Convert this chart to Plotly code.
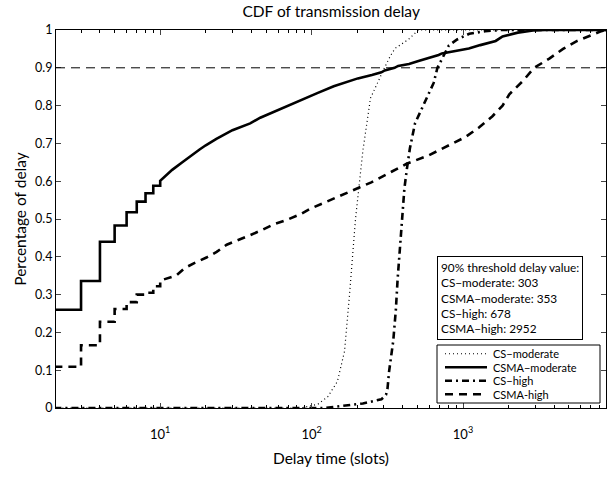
import numpy as np
import plotly.graph_objects as go

# ---------------- data ----------------
# CSMA-moderate: stair part (integer delays) then smooth part
csma_mod_step_x = [2, 3, 4, 5, 6, 7, 8, 9, 10]
csma_mod_step_y = [0.26, 0.336, 0.44, 0.483, 0.518, 0.546, 0.568, 0.588, 0.601]
csma_mod_x = [11, 12, 14, 16, 18.2, 20, 23.5, 30, 39.3, 45.8, 55, 65.5, 85, 109, 140, 182, 202,
              250, 289, 304, 353, 373, 440, 508, 600, 690, 726, 900, 1093, 1300, 1644, 1825,
              2300, 2900, 3500, 8800]
csma_mod_y = [0.615, 0.63, 0.65, 0.668, 0.684, 0.695, 0.712, 0.735, 0.753, 0.768, 0.782, 0.795,
              0.815, 0.833, 0.851, 0.866, 0.872, 0.881, 0.888, 0.893, 0.9, 0.905, 0.91, 0.918,
              0.926, 0.934, 0.938, 0.945, 0.951, 0.96, 0.971, 0.983, 0.993, 0.999, 1.0, 1.0]

# CSMA-high
csma_high_step_x = [2, 3, 4, 5, 6, 7, 8, 9, 10]
csma_high_step_y = [0.109, 0.166, 0.228, 0.262, 0.28, 0.30, 0.305, 0.322, 0.337]
csma_high_x = [12.8, 14.5, 16.9, 20.2, 23.6, 27.5, 32.8, 39.2, 47, 56.2, 69, 84.7, 97.8, 128,
               182, 248, 337, 424, 591, 805, 1040, 1275, 1565, 1825, 2023, 2483, 2952, 3736,
               4580, 5600, 6900, 8200, 8800]
csma_high_y = [0.351, 0.37, 0.384, 0.398, 0.413, 0.432, 0.444, 0.457, 0.471, 0.486, 0.498,
               0.513, 0.527, 0.547, 0.572, 0.597, 0.625, 0.646, 0.668, 0.695, 0.717, 0.742,
               0.772, 0.8, 0.83, 0.865, 0.9, 0.925, 0.95, 0.97, 0.985, 0.997, 1.0]

# CS-moderate
cs_mod_x = [2, 85, 110, 128, 148, 165, 178, 195, 218, 245, 303, 330, 355, 436, 508, 8800]
cs_mod_y = [0, 0, 0.01, 0.03, 0.07, 0.15, 0.3, 0.5, 0.68, 0.82, 0.9, 0.93, 0.951, 0.975, 1.0, 1.0]

# CS-high
cs_high_x = [2, 120, 156, 218, 289, 310, 317, 325, 346, 360, 370, 380, 395, 410, 425, 446,
             482, 562, 640, 678, 806, 915, 1100, 1400, 1800, 8800]
cs_high_y = [0, 0, 0.005, 0.012, 0.023, 0.035, 0.05, 0.097, 0.177, 0.259, 0.341, 0.4, 0.48,
             0.58, 0.63, 0.687, 0.753, 0.811, 0.86, 0.9, 0.959, 0.975, 0.99, 0.997, 1.0, 1.0]

threshold = 0.9
thresh_names = ["CS\u2212moderate", "CSMA\u2212moderate", "CS\u2212high", "CSMA\u2212high"]
thresh_values = [303, 353, 678, 2952]
legend_names = ["CS\u2212moderate", "CSMA\u2212moderate", "CS\u2212high", "CSMA-high"]

x_tickvals = [10, 100, 1000]
x_ticktext = ["10<sup>1</sup>", "10<sup>2</sup>", "10<sup>3</sup>"]
y_tickvals = [0, 0.1, 0.2, 0.3, 0.4, 0.5, 0.6, 0.7, 0.8, 0.9, 1]
y_ticktext = ["0", "0.1", "0.2", "0.3", "0.4", "0.5", "0.6", "0.7", "0.8", "0.9", "1"]

# ---------------- styling ----------------
W, H = 611, 477
ML, MR, MT, MB = 56, 5, 30, 69
PW, PH = W - ML - MR, H - MT - MB
FONT = "Lato, 'Open Sans', sans-serif"

styles = [
    dict(color="black", width=1.2, dash="1px,3px"),
    dict(color="black", width=2.6),
    dict(color="black", width=2.6, dash="7px,4px,2px,4px"),
    dict(color="black", width=2.6, dash="8px,6px"),
]


def stairs(sx, sy):
    xs, ys = [], []
    for i in range(len(sx)):
        if i > 0:
            xs.append(sx[i]); ys.append(sy[i - 1])
        xs.append(sx[i]); ys.append(sy[i])
    return xs, ys


def px_x(p):  # pixel -> paper x
    return (p - ML) / PW


def px_y(p):  # pixel -> paper y
    return (H - MB - p) / PH


fig = go.Figure()
sx, sy = stairs(csma_mod_step_x, csma_mod_step_y)
hx, hy = stairs(csma_high_step_x, csma_high_step_y)
series = [
    (cs_mod_x, cs_mod_y),
    (sx + csma_mod_x, sy + csma_mod_y),
    (cs_high_x, cs_high_y),
    (hx + csma_high_x, hy + csma_high_y),
]
for (xs, ys), name, st in zip(series, legend_names, styles):
    fig.add_trace(go.Scatter(x=xs, y=ys, mode="lines", name=name, line=st, showlegend=False))

fig.add_hline(y=threshold, line=dict(color="black", width=1, dash="9px,6px"))

# threshold annotation box
ann_text = "90% threshold delay value:<br>" + "<br>".join(
    f"{n}: {v}" for n, v in zip(thresh_names, thresh_values))
fig.add_annotation(xref="paper", yref="paper", x=px_x(437), y=px_y(256), xanchor="left",
                   yanchor="top", text=ann_text, showarrow=False, align="left",
                   font=dict(family=FONT, size=11.8, color="black"),
                   bordercolor="black", borderwidth=1, borderpad=3, bgcolor="white")

# legend box (drawn compactly, like the original)
LEG_GAP = 13.5
leg_top, leg_left, leg_right = 345, 437, 600
leg_bot = leg_top + 4 * LEG_GAP + 4
fig.add_shape(type="rect", xref="paper", yref="paper", x0=px_x(leg_left), x1=px_x(leg_right),
              y0=px_y(leg_bot), y1=px_y(leg_top), line=dict(color="black", width=1),
              fillcolor="white", layer="above")
for i, (name, st) in enumerate(zip(legend_names, styles)):
    yc = px_y(leg_top + 2 + LEG_GAP * (i + 0.5))
    fig.add_shape(type="line", xref="paper", yref="paper", x0=px_x(445), x1=px_x(487),
                  y0=yc, y1=yc, line=st, layer="above")
    fig.add_annotation(xref="paper", yref="paper", x=px_x(491), y=yc, xanchor="left",
                       yanchor="middle", text=name, showarrow=False,
                       font=dict(family=FONT, size=11, color="black"))

minor_vals = [m * 10 ** e for e in range(0, 4) for m in range(2, 10) if m * 10 ** e <= 8800]

fig.update_layout(
    width=W, height=H,
    margin=dict(l=ML, r=MR, t=MT, b=MB),
    paper_bgcolor="white", plot_bgcolor="white",
    font=dict(family=FONT, size=12.5, color="black"),
    title=dict(text="CDF of transmission delay", x=0.542, xanchor="center",
               y=1 - 12 / H, yanchor="middle", font=dict(size=15.5)),
    showlegend=False,
    xaxis=dict(type="log", range=[np.log10(2.05), np.log10(8800)], tickvals=x_tickvals,
               ticktext=x_ticktext, ticks="inside", ticklen=5, showline=True,
               linecolor="black", linewidth=1, mirror="ticks", showgrid=False, zeroline=False,
               ticklabelstandoff=14, tickfont=dict(size=13),
               minor=dict(tickvals=minor_vals, ticks="inside", ticklen=3, tickcolor="black"),
               title=dict(text="Delay time (slots)", standoff=12, font=dict(size=15.5))),
    yaxis=dict(range=[0, 1], tickvals=y_tickvals, ticktext=y_ticktext, ticks="inside",
               ticklen=5, showline=True, linecolor="black", linewidth=1, mirror="ticks",
               showgrid=False, zeroline=False, tickfont=dict(size=12.5),
               title=dict(text="Percentage of delay", standoff=4, font=dict(size=15.5))),
)

fig.write_html("out.html")
